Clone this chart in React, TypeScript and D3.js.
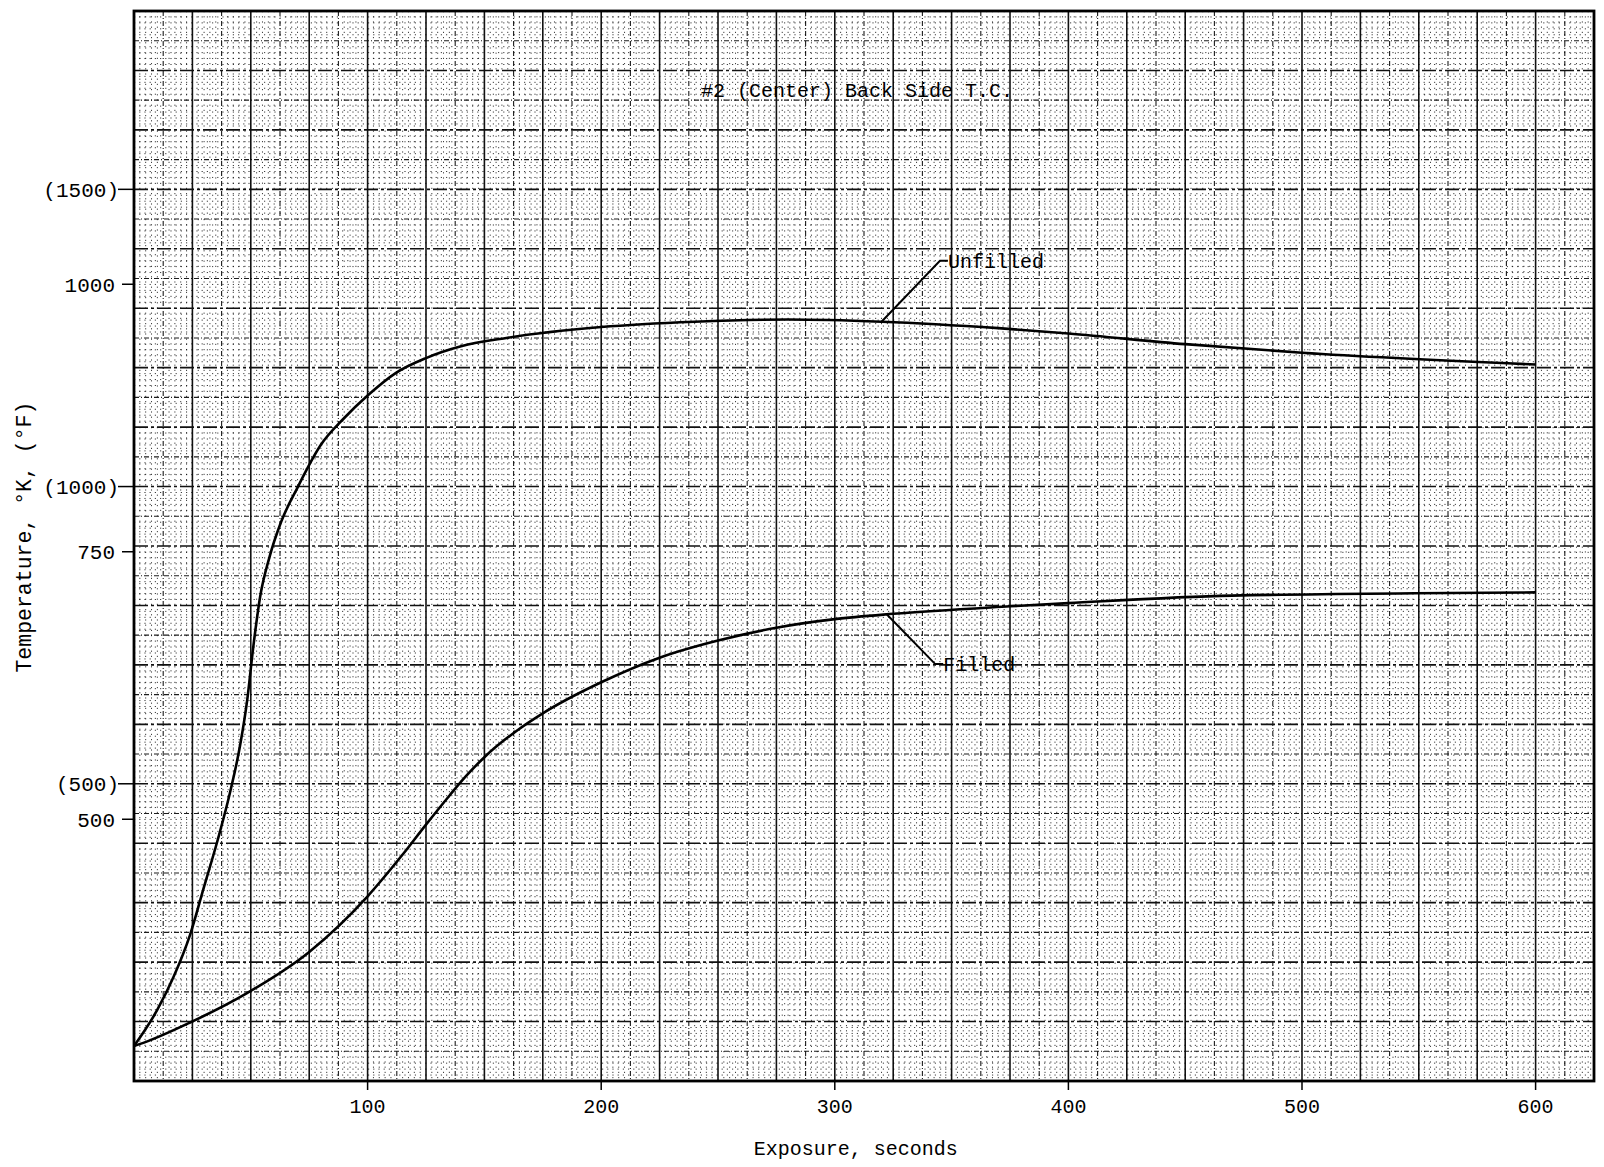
import React from 'react';
import * as d3 from 'd3';

// exposure time (s) and back side temperature (K)
const unfilledTime = [0, 10, 17, 24, 30, 36, 41, 45.5, 48.5, 51, 54, 58, 63, 70, 80, 90, 100, 112, 125, 140, 160, 200, 240, 280, 320, 370, 400, 450, 500, 600];
const unfilledTemp = [288, 322, 353, 392, 437, 482, 524, 570, 612, 660, 708, 745, 778, 810, 850, 875, 896, 917, 931, 942, 950, 960, 965, 967, 965, 959, 954, 944, 936, 925];

const filledTime = [0, 4, 24, 48, 75, 100, 115, 125, 135, 142, 150, 164, 175, 200, 225, 250, 275, 300, 325, 375, 400, 470, 600];
const filledTemp = [288, 291, 310, 337, 376, 428, 467, 495, 522, 540, 558, 583, 599, 628, 651, 667, 679, 687, 692, 699, 702, 709, 712];

const xTicks = [100, 200, 300, 400, 500, 600];
const kelvinTicks = [500, 750, 1000];
const fahrenheitTicks = [500, 1000, 1500];

const annotations = [
  { label: 'Unfilled', anchorT: 320, anchorK: 965, elbowT: 345, elbowK: 1022 },
  { label: 'Filled', anchorT: 322, anchorK: 692, elbowT: 343, elbowK: 645 },
];

const W = 1604;
const H = 1167;
const font = '"Liberation Mono", "DejaVu Sans Mono", monospace';

const kToF = (k: number) => k * 1.8 - 459.67;

export default function App() {
  // the paper grid is laid out in seconds and degrees F
  const x = d3.scaleLinear().domain([0, 625]).range([134, 1594]);
  const yF = d3.scaleLinear().domain([0, 1800]).range([1081, 11]);
  const yK = (k: number) => yF(kToF(k));

  const line = d3
    .line<[number, number]>()
    .curve(d3.curveMonotoneX)
    .x((d) => x(d[0]))
    .y((d) => yK(d[1]));

  const unfilled = unfilledTime.map((t, i) => [t, unfilledTemp[i]] as [number, number]);
  const filled = filledTime.map((t, i) => [t, filledTemp[i]] as [number, number]);

  const vLines = d3.range(0, 625.01, 2.5);
  const hLines = d3.range(0, 1800.01, 10);

  const [x0, x1] = x.range();
  const [yb, yt] = yF.range();

  const styleFor = (i: number, horizontal: boolean) =>
    i % 10 === 0
      ? { stroke: '#111', strokeWidth: 1.6, strokeDasharray: horizontal ? '14 3 3 3' : undefined, opacity: 1 }
      : i % 5 === 0
      ? { stroke: '#111', strokeWidth: 1.1, strokeDasharray: '5 2 1 2', opacity: 0.95 }
      : { stroke: '#000', strokeWidth: 1, strokeDasharray: '1.2 4', opacity: 0.75 };

  return (
    <div style={{ position: 'absolute', left: 0, top: 0 }}>
      <svg width={W} height={H} style={{ display: 'block', background: '#fff' }}>
        {/* graph paper */}
        <g>
          {vLines.map((v, i) => (
            <line key={'v' + i} x1={x(v)} x2={x(v)} y1={yt} y2={yb} {...styleFor(i, false)} />
          ))}
          {hLines.map((v, i) => (
            <line key={'h' + i} x1={x0} x2={x1} y1={yF(v)} y2={yF(v)} {...styleFor(i, true)} />
          ))}
          <rect x={x0} y={yt} width={x1 - x0} height={yb - yt} fill="none" stroke="#000" strokeWidth={2.8} />
        </g>

        {/* curves */}
        <path d={line(unfilled) || ''} fill="none" stroke="#000" strokeWidth={2.6} />
        <path d={line(filled) || ''} fill="none" stroke="#000" strokeWidth={2.6} />

        {/* labels with leaders */}
        {annotations.map((a) => (
          <g key={a.label}>
            <polyline
              points={`${x(a.anchorT)},${yK(a.anchorK)} ${x(a.elbowT)},${yK(a.elbowK)} ${x(a.elbowT) + 8},${yK(a.elbowK)}`}
              fill="none"
              stroke="#000"
              strokeWidth={2}
            />
            <text x={x(a.elbowT) + 8} y={yK(a.elbowK)} dy="0.35em" fontFamily={font} fontSize={20}>
              {a.label}
            </text>
          </g>
        ))}

        <text x={x(309.5)} y={yF(1667)} dy="0.35em" textAnchor="middle" fontFamily={font} fontSize={20}>
          #2 (Center) Back Side T.C.
        </text>

        {/* x axis */}
        {xTicks.map((t) => (
          <g key={t}>
            <line x1={x(t)} x2={x(t)} y1={yb} y2={yb + 9} stroke="#000" strokeWidth={1.5} />
            <text x={x(t)} y={yb + 25} dy="0.35em" textAnchor="middle" fontFamily={font} fontSize={20}>
              {t}
            </text>
          </g>
        ))}
        <text x={x(309)} y={1148} dy="0.35em" textAnchor="middle" fontFamily={font} fontSize={20}>
          Exposure, seconds
        </text>

        {/* y axis, K with F in parentheses */}
        {kelvinTicks.map((k) => (
          <g key={'k' + k}>
            <line x1={x0 - 12} x2={x0} y1={yK(k)} y2={yK(k)} stroke="#000" strokeWidth={1.5} />
            <text x={x0 - 19} y={yK(k)} dy="0.35em" textAnchor="end" fontFamily={font} fontSize={21}>
              {k}
            </text>
          </g>
        ))}
        {fahrenheitTicks.map((f) => (
          <g key={'f' + f}>
            <line x1={x0 - 16} x2={x0} y1={yF(f)} y2={yF(f)} stroke="#000" strokeWidth={1.5} />
            <text x={x0 - 15} y={yF(f)} dy="0.35em" textAnchor="end" fontFamily={font} fontSize={21}>
              ({f})
            </text>
          </g>
        ))}
        <text
          transform={`translate(23, ${yF(915)}) rotate(-90)`}
          dy="0.35em"
          textAnchor="middle"
          fontFamily={font}
          fontSize={21.5}
        >
          Temperature, °K, (°F)
        </text>
      </svg>
    </div>
  );
}
